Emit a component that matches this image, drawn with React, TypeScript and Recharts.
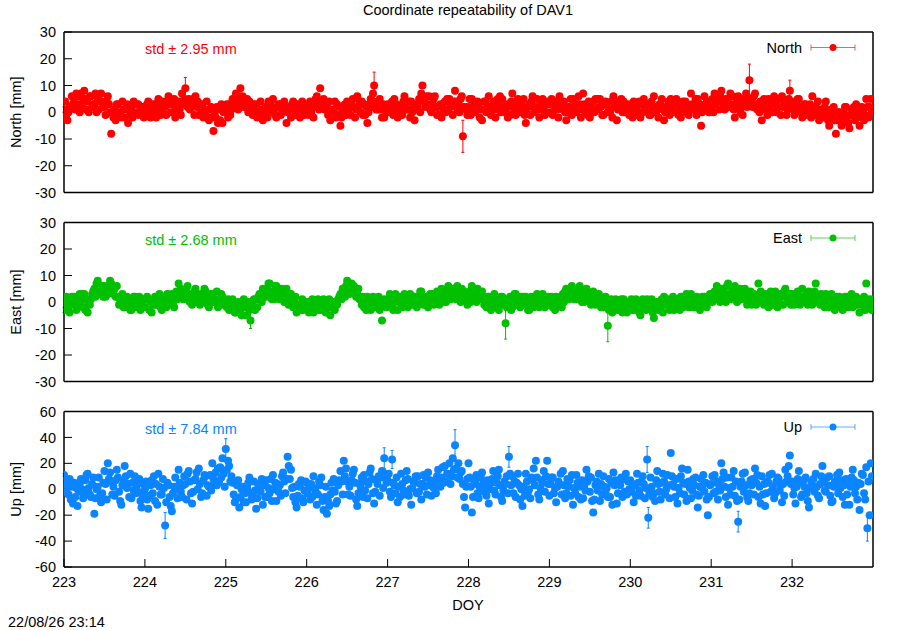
import React from 'react';
import { ScatterChart, Scatter, XAxis, YAxis, ErrorBar } from 'recharts';

// 20-minute solutions; each inner array is one day (DOY 223 .. 232)
const DOY_START = 223;
const doyTicks = [223, 224, 225, 226, 227, 228, 229, 230, 231, 232];
const neTicks = [-30, -20, -10, 0, 10, 20, 30];
const upTicks = [-60, -40, -20, 0, 20, 40, 60];

// North [mm]
const north: number[][] = [
  [1, 4, -1, -3, 0, 2, 2, 6, 3, 5, 1, 7, 3, 6, 0, 7, 2, 4, 8, 5, 1, 4, 0, 6, 6, 2, 3, 3, 7, 0, 5, 1, 4, 7, 4, 2, 2, -1, 4, 6, 3, 0, -8, 0, -2, 1, -3, 3, 3, 0, -1, -2, 4, 1, -2, 1, 3, -4, 2, -1, 1, -2, 4, -1, 3, 0, 3, -1, 1, 0, 2, -2],
  [2, -1, 3, 4, 1, -2, -1, 3, 1, 3, -2, 0, 5, 2, -1, 0, 4, 2, 2, -1, 4, 6, 3, 0, 3, 0, 5, -2, 2, 1, 4, 1, -1, 7, 3, 5, 9, 4, 2, 5, 1, 3, 2, 5, -1, 6, 2, 4, -1, 3, 0, 3, -2, 1, 0, 4, -2, -3, 1, 2, -2, -7, 0, -2, 2, -4, 1, -3, 3, -4, 0, 2],
  [0, 3, -2, 3, -1, 1, 5, 2, 4, 7, 3, 1, 6, 9, 4, 6, 2, 3, 2, 5, 0, 4, 0, 2, -1, 3, 1, 3, -2, 0, 1, 4, -1, -3, 0, 2, 2, -2, 4, 0, 3, 1, 5, 1, -1, -2, 2, 3, 3, -1, 0, 1, 4, 2, -4, 0, 1, 2, -2, 3, 4, 1, -1, 0, 3, 2, -2, 1, 4, 3, -1, 0],
  [1, 3, -1, 4, 0, 2, -2, 2, 5, 6, 3, 1, 9, 4, 2, 5, 1, 3, 2, -1, 4, -3, 1, 0, 0, 4, -2, 3, -1, 2, -5, -2, 1, 1, 3, -1, 4, 0, 2, -1, 3, 5, 2, -2, 1, 6, 2, 4, 0, 4, -1, 3, -1, 2, -4, 0, 3, 5, 2, 7, 10, 3, 1, 4, 1, 5, 1, -2, 3, -2, 2, 0],
  [3, 0, 2, 0, 4, -1, 5, 1, 3, -2, 2, 0, 2, -1, 4, 6, 3, 1, 1, 4, -2, 4, 0, 2, -3, 1, 3, 2, 5, 0, 7, 10, 4, 5, 2, 6, 3, 6, 1, 0, 3, 5, 6, 2, -1, 2, -1, 3, -2, 3, 1, 4, 0, 5, 1, 5, 2, 3, -1, 4, 8, 4, 1, 3, 0, 5, 6, -9, 2, 2, 1, -1],
  [2, 5, -1, 5, 1, 3, 0, 3, 4, 3, -2, 1, -3, 1, 4, 4, 0, 2, 6, 2, -1, 1, 4, 3, -2, 1, 5, 3, 6, 0, 5, 1, 2, 0, 3, -2, 2, -1, 4, 7, 3, 1, -1, 2, 5, 4, 0, 3, 1, 5, -1, -4, 0, 2, 3, -1, 4, 6, 2, 0, 2, 5, 1, -2, 1, 3, 5, 2, -1, 0, 3, 4],
  [3, 0, 5, -1, 3, 1, 4, 1, -2, 6, 2, 3, 1, 4, 0, -3, 0, 2, 2, 5, -1, 5, 1, 3, 0, 3, 6, 3, -2, 1, 7, 3, 0, 2, -1, 4, -2, 3, 1, 4, 0, 5, 1, 5, 2, 5, 2, -1, -1, 3, 4, 3, 0, 1, 0, 4, -2, 6, 2, 3, -3, 1, 4, 2, 5, 0, 4, 0, 2, 1, 3, -1],
  [0, 3, -2, 4, 1, 2, 2, -1, 4, -2, 3, 0, 5, 1, 3, 3, 0, -1, -1, 4, 2, 6, 2, 0, 1, -2, 3, 3, 5, 1, -3, 0, 2, 2, 4, -1, 5, 1, 3, 0, 3, 5, 4, -1, 1, -2, 2, 4, 1, 4, 0, 3, -1, 2, 7, 3, 1, 2, 5, -1, 5, 1, 3, -5, 0, 2, 6, 2, 4, 3, 0, 1],
  [2, 5, 0, 7, 3, 5, 4, 1, 6, 8, 4, 2, 1, 5, 3, 5, 2, 7, 3, 6, 1, -2, 2, 4, 6, 3, 0, 2, -1, 5, 4, 7, 2, 5, 12, 3, 5, 2, 6, 7, 3, 1, 3, 0, 4, -3, 2, 5, 1, 4, -1, 5, 1, 3, 0, 3, 6, 4, 0, 2, 2, 5, -1, 6, 2, 4, 3, -1, 1, 5, 8, 2],
  [4, 1, -1, 1, 3, 5, 5, 2, 0, -2, 1, 3, 3, -1, 2, 0, 3, -2, 6, 2, 0, 2, -1, 4, -3, 1, -1, 1, -2, 2, 4, 0, -3, -5, -1, 1, -1, 2, -3, -8, -3, 0, 0, -2, -5, -4, 0, 2, 2, -2, -4, -6, -1, 1, -1, 2, -3, 3, -2, 0, -5, -1, 2, 1, -3, -1, 5, 2, -2, 2, 5, 0],
];

// East [mm]
const east: number[][] = [
  [-3, 0, 2, 1, -2, -4, -1, 2, 0, 2, -1, -3, -2, 1, 3, 0, 3, -2, 3, -3, 1, -4, 0, -1, 1, 3, 4, 5, 2, 7, 8, 4, 3, 4, 6, 2, 6, 2, 5, 3, 5, 8, 7, 4, 3, 5, 2, 6, 2, -1, 1, 0, 3, -2, -2, 1, 2, 1, -1, -3, -3, 0, 2, 2, -2, 0, -1, 2, -3, 0, -1, 1],
  [-2, 1, 2, 1, -3, 0, -4, 0, -1, 2, -1, 1, 0, 3, -2, -3, 0, 2, 1, -2, 3, -1, 2, 0, 3, 0, -2, 2, 4, 1, 7, 3, 5, 4, 1, 2, 1, 4, 6, 3, 0, 2, -1, 2, 4, 5, 2, 0, 2, -1, 3, 0, 3, 5, 4, 1, -1, -2, 2, 3, 3, 0, 1, 1, 4, -2, -1, 1, 3, 2, -1, 0],
  [0, -2, 1, -3, 0, -1, 1, -2, -4, -4, -1, 0, -1, -3, -5, -2, 1, -1, -5, -2, 0, -3, -7, -1, -1, 1, -3, 1, -2, 2, 3, 1, 0, 5, 2, 4, 2, 5, 7, 7, 3, 1, 4, 1, 6, 6, 3, 2, 1, 4, 5, 3, 0, 2, 5, 2, -1, 0, 3, 1, -2, 0, 2, -4, -1, -2, -1, -3, 1, -3, 0, -1],
  [-2, 0, -4, 0, -3, 1, -4, -1, -2, -1, 1, -3, -3, -2, 0, 1, -1, -4, -2, 0, 1, -5, -2, -1, 0, -3, -1, -1, 1, 2, 3, 1, 5, 5, 2, 6, 8, 4, 3, 4, 7, 5, 6, 3, 2, 3, 5, 1, 1, -1, 2, -2, 1, -3, 2, -1, 0, -3, 0, 2, 0, -2, 1, -1, 2, -3, -2, -7, 0, 1, -1, -2],
  [-1, 1, 3, 2, -1, -3, 0, 3, 1, -3, 0, 2, 1, -2, 0, 3, 1, -1, -2, 1, 3, 0, -1, 2, 2, 0, -2, -1, 2, 4, 4, 1, -1, 1, -1, 2, -2, 1, 3, 3, 0, -1, 0, 2, 4, 2, -1, 1, 5, 2, 0, 3, 0, 4, 6, 3, 1, 2, 5, 3, 4, 1, 6, 1, 3, 0, 5, 2, 4, 3, 1, -1],
  [2, 4, 0, 6, 3, 1, 3, 0, 5, 1, 4, 2, 4, 1, -1, 0, -2, 2, 2, 0, -3, -1, 1, 3, 1, -2, 0, -3, 0, 2, 2, -1, 1, -8, -2, 0, 0, 2, -3, -2, 1, 3, 3, 0, -1, 1, -2, 2, -1, 2, 0, 2, -1, -3, -3, 1, 2, 0, -2, 1, 1, 3, -1, -2, 0, 2, 3, 1, -2, 0, -1, 2],
  [1, -1, 2, -2, 1, -3, 2, -1, 0, 0, 2, -2, 3, 0, 4, 5, 2, 1, 2, 4, 6, 4, 1, 3, 1, 3, 5, 6, 2, 0, 3, 0, 4, 5, 3, 1, 2, -1, 3, 4, 1, -1, 0, 2, 3, 1, -2, 0, -2, 0, 2, -1, -9, -3, -1, 1, -4, -3, -1, 1, 0, -3, -1, -2, 1, -4, 1, -2, 0, -4, -1, -2],
  [-1, 1, -3, -3, -1, 1, 0, -2, -4, -5, -1, 1, -2, 0, -3, 1, -2, 0, -1, 1, -4, -6, -2, 0, 0, -3, -1, -2, 1, -4, 2, -1, 0, -1, 1, -3, 0, -2, 2, -3, 0, 1, 1, -1, -3, 2, 0, -2, -1, 1, 3, 0, -2, 1, 3, 0, -2, -2, 1, 2, 1, -1, -3, -1, 2, 0, 2, -1, -2, 0, 1, 3],
  [2, 0, 3, 4, 1, 6, 1, 3, 0, 5, 2, 4, 3, 0, 6, 7, 3, 1, 2, 5, 4, 6, 2, 0, 4, 1, 5, 1, 4, 2, 5, 2, -1, 3, 0, 4, -1, 2, 3, 2, -1, 1, 7, 2, 4, 0, 3, -1, 3, 0, 2, -2, 1, 4, 1, -1, 3, 4, 1, -2, 0, 3, 2, 2, -1, 4, 5, 2, 0, 1, 3, -1],
  [3, 1, -1, 0, 2, 4, 2, -1, 1, 5, 2, 0, 1, 3, -1, 4, 1, 2, -1, 2, 4, 7, 3, 0, 2, -1, 3, 0, 2, -2, 3, 0, 1, -2, 1, 3, 1, -1, -3, -1, 2, 0, 2, -2, 1, -3, 0, 2, 0, 2, -2, 1, -1, 3, -2, 1, -1, 2, -1, 0, -4, -1, 1, 0, 2, -3, 7, 1, -1, -1, 1, -3],
];

// Up [mm]
const up: number[][] = [
  [11, 6, -2, 3, -4, 8, -8, 2, -11, 5, -6, 1, -13, -2, 4, 8, 0, -7, -3, 7, 11, 12, 1, -4, -6, 4, 9, -19, -7, 0, 2, 9, -5, -10, -3, 5, 14, 4, -8, 20, 8, 13, 6, -4, 2, -5, 7, 15, 9, -2, -9, -12, 3, 6, 18, 10, 1, 4, -6, 12, -7, 5, -1, 10, -3, 3, -2, 8, -9, -14, -5, 4],
  [0, 6, -8, -15, -5, 3, 7, -3, 10, -9, 4, -12, 12, 2, -4, -4, 8, 1, -28, -10, 5, 3, -6, -13, -17, -3, 2, 9, 1, -7, 15, 5, -2, -6, 3, 10, 4, -8, 12, 14, 6, -3, -11, -2, 7, 8, 13, 0, 16, 4, -6, -3, 7, 11, 10, -5, 3, 2, 11, -1, 20, 8, 4, 13, 3, 16, 6, 17, 9, 24, 12, 2],
  [31, 15, 22, 18, 6, 10, 5, -4, -10, -8, 3, 7, -14, -6, 0, 2, -10, -3, -10, 1, 5, 9, -3, -8, -5, 6, -1, -15, -7, 3, 4, -2, 8, -12, 3, -6, 7, -6, 1, -3, 8, -9, 11, 0, 5, -9, 4, -2, 3, -5, 10, 13, 6, -3, 8, 25, 18, 8, 15, 1, -6, 2, -10, -14, -5, 4, 2, 7, -7, -10, -1, 6],
  [5, -3, 1, -8, 4, -6, 10, 1, -2, -12, -4, 6, 3, 9, -9, -16, -6, 2, -19, -9, -13, -4, 5, -1, 8, -2, -11, -9, 3, 7, 14, 6, -4, 22, 10, 16, 6, -4, 2, -5, 7, 12, 15, 5, -8, -13, -3, 4, 2, 9, -6, 11, -1, 6, -7, 4, 13, 16, 8, -3, -11, -2, 7, 4, 10, -5, 9, 14, 1, 24, 12, 5],
  [7, 12, -2, -6, 23, 5, 3, -3, 9, -10, 2, -6, 12, 4, -1, -4, 7, 14, 8, -5, 0, -12, 1, 6, 5, 10, -3, 10, -2, 4, -8, 4, 11, 2, 9, -4, 13, 3, 7, -5, 6, 1, 6, -3, 10, 15, 8, 2, 9, 17, 5, 18, 6, 12, 12, 20, 4, 10, 24, 15, 34, 16, 9, 20, 8, 13, 14, 4, -6, -14, 2, 8],
  [20, 9, 2, -18, -6, 4, 6, 11, -3, -7, 2, 9, 13, 4, -2, 2, -5, 7, -11, 0, 5, 8, 14, -1, -4, 5, 10, 15, 3, -6, -9, -1, 6, 4, 10, -3, 25, 12, 3, 10, -3, 6, -6, 5, 12, 3, -8, 0, -13, 2, -5, 12, 6, -2, 0, -7, 9, 7, 16, 3, 22, 9, -4, -8, 1, 7, 5, 14, -2, 10, 22, 4],
  [-5, 4, 9, 9, -3, 1, -10, 2, 6, 4, 12, -4, 14, 3, -7, -3, 8, 2, 7, -5, 11, -12, 1, -3, 11, 5, -6, 2, -8, 7, -7, 3, -1, 15, 6, 10, -2, 9, -9, -18, -8, 3, 6, -1, 12, -9, 4, -4, 10, 2, -2, 1, -6, 8, -6, 5, -12, 13, 3, 7, -11, -3, 4, 3, 9, -6, 8, -2, 12, -4, 6, 0],
  [7, -2, 4, -10, 3, -5, 12, 5, -1, -5, 6, 10, 4, -7, 1, 23, -22, -3, 9, 2, -6, -3, -9, 7, 14, 4, -2, -8, 5, 12, 6, -4, 0, 11, 3, -7, 28, 10, 4, 2, -6, 8, -11, 1, -3, 10, 16, 5, -4, 4, -9, 15, 6, 1, -7, -1, 8, 3, 9, -4, -14, -5, 2, 8, 1, 11, -2, 5, -8, -20, -6, 3],
  [4, 10, -3, 11, -2, 6, -8, 3, -1, 20, 8, 13, 2, -6, 9, -12, 1, -4, 9, 2, 14, -5, 6, -9, -25, -8, 2, 6, 12, -2, 13, 3, -6, -9, -3, 7, 3, 8, -4, 16, 5, 11, -6, 2, -11, 10, -4, 4, -13, -3, 6, 5, 11, -2, 12, 2, -7, -3, 6, 9, 8, -1, 3, -10, 4, -5, 15, 6, 10, 18, 26, 4],
  [6, -4, 1, -11, 2, 8, 14, 5, -6, -4, 7, 2, 9, -3, -9, -14, 1, 6, 3, 8, -2, 12, 2, -5, -7, 4, 10, 18, 6, -1, -2, 9, 3, 10, -5, -10, -9, 2, 6, 4, 11, -3, 13, 1, 7, -6, 3, -12, 8, -4, 4, -12, 2, 9, 15, 7, -3, 2, -8, 5, -16, 4, 12, 11, -3, -8, 17, -30, 6, -20, 20, 10],
];

// formal errors that stick out of the band ("day:sample" -> mm); the rest are ~1 mm
const northErr: Record<string, number> = { '1:36': 4, '3:60': 5, '4:67': 6, '8:34': 6, '8:70': 4 };
const eastErr: Record<string, number> = { '2:22': 3, '5:33': 6, '6:52': 6 };
const upErr: Record<string, number> = {
  '1:18': 10, '2:0': 8, '3:69': 8, '4:4': 7, '4:60': 12, '5:36': 8, '7:15': 10, '7:16': 8, '8:24': 8, '9:67': 10,
};

const FONT = '"Liberation Sans", Arial, Helvetica, sans-serif';
const FS = 14.5;

const toRows = (days: number[][], errs: Record<string, number>) =>
  days.flatMap((day, d) =>
    day.map((v, j) => ({ doy: DOY_START + d + j / day.length, v, err: errs[`${d}:${j}`] ?? 1 }))
  );

interface PanelProps {
  rows: { doy: number; v: number; err: number }[];
  color: string;
  domain: [number, number];
  ticks: number[];
  top: number;
  bottom: number;
  showDoy?: boolean;
}

const Panel = ({ rows, color, domain, ticks, top, bottom, showDoy }: PanelProps) => {
  const tickFont = { fill: '#000', fontSize: FS, fontFamily: FONT };
  const line = { stroke: '#000', strokeWidth: 1.5 };
  return (
    <div style={{ position: 'absolute', left: 0, top: 0 }}>
      <ScatterChart
        width={900}
        height={630}
        margin={{ top: top - 1, bottom: 630 - bottom - 1, left: 0, right: 26 }}
      >
        <XAxis
          xAxisId="b"
          type="number"
          dataKey="doy"
          domain={[223, 233]}
          ticks={doyTicks}
          allowDataOverflow
          height={1}
          tickSize={-8}
          tickMargin={18}
          axisLine={line}
          tickLine={{ stroke: '#000' }}
          tick={showDoy ? tickFont : false}
        />
        <XAxis
          xAxisId="t"
          orientation="top"
          type="number"
          domain={[223, 233]}
          ticks={doyTicks}
          allowDataOverflow
          height={1}
          tickSize={-8}
          axisLine={line}
          tickLine={{ stroke: '#000' }}
          tick={false}
        />
        <YAxis
          yAxisId="l"
          type="number"
          dataKey="v"
          domain={domain}
          ticks={ticks}
          allowDataOverflow
          width={64}
          tickSize={-8}
          tickMargin={16}
          axisLine={line}
          tickLine={{ stroke: '#000' }}
          tick={tickFont}
        />
        <YAxis
          yAxisId="r"
          orientation="right"
          type="number"
          domain={domain}
          ticks={ticks}
          allowDataOverflow
          width={1}
          tickSize={-8}
          axisLine={line}
          tickLine={{ stroke: '#777' }}
          tick={false}
        />
        <Scatter
          xAxisId="b"
          yAxisId="l"
          data={rows}
          dataKey="v"
          fill={color}
          isAnimationActive={false}
          shape={(p: any) => <circle cx={p.cx} cy={p.cy} r={4} fill={color} />}
        >
          <ErrorBar dataKey="err" direction="y" width={1.5} stroke={color} strokeWidth={1} />
        </Scatter>
      </ScatterChart>
    </div>
  );
};

const panels = [
  { name: 'North', color: '#ff0000', std: '2.95', top: 32, bottom: 192.5, domain: [-30, 30] as [number, number], ticks: neTicks, rows: toRows(north, northErr) },
  { name: 'East', color: '#00c000', std: '2.68', top: 222.5, bottom: 381.5, domain: [-30, 30] as [number, number], ticks: neTicks, rows: toRows(east, eastErr) },
  { name: 'Up', color: '#0a84ff', std: '7.84', top: 411.5, bottom: 567, domain: [-60, 60] as [number, number], ticks: upTicks, rows: toRows(up, upErr) },
];

export default function App() {
  return (
    <div style={{ position: 'absolute', left: 0, top: 0, width: 900, height: 630, background: '#fff', fontFamily: FONT }}>
      {panels.map((p, i) => (
        <Panel key={p.name} rows={p.rows} color={p.color} domain={p.domain} ticks={p.ticks} top={p.top} bottom={p.bottom} showDoy={i === 2} />
      ))}
      <svg width={900} height={630} style={{ position: 'absolute', left: 0, top: 0 }} fontFamily={FONT} fontSize={FS}>
        <text x={468} y={15} textAnchor="middle" fill="#000">Coordinate repeatability of DAV1</text>
        <text x={468} y={610} textAnchor="middle" fill="#000">DOY</text>
        <text x={8} y={627} fill="#000">22/08/26 23:14</text>
        {panels.map((p) => {
          const mid = (p.top + p.bottom) / 2;
          const ly = p.top + 15.5;
          return (
            <g key={p.name}>
              <text x={21} y={mid} textAnchor="middle" fill="#000" transform={`rotate(-90 21 ${mid})`}>
                {`${p.name} [mm]`}
              </text>
              <text x={145} y={p.top + 22} fill={p.color}>{`std \u00b1 ${p.std} mm`}</text>
              <text x={802} y={ly + 5} textAnchor="end" fill="#000">{p.name}</text>
              <g stroke={p.color} strokeOpacity={0.65} strokeWidth={1}>
                <line x1={811} y1={ly} x2={855} y2={ly} />
                <line x1={811} y1={ly - 3} x2={811} y2={ly + 3} />
                <line x1={855} y1={ly - 3} x2={855} y2={ly + 3} />
              </g>
              <circle cx={833} cy={ly} r={3.5} fill={p.color} />
            </g>
          );
        })}
      </svg>
    </div>
  );
}
